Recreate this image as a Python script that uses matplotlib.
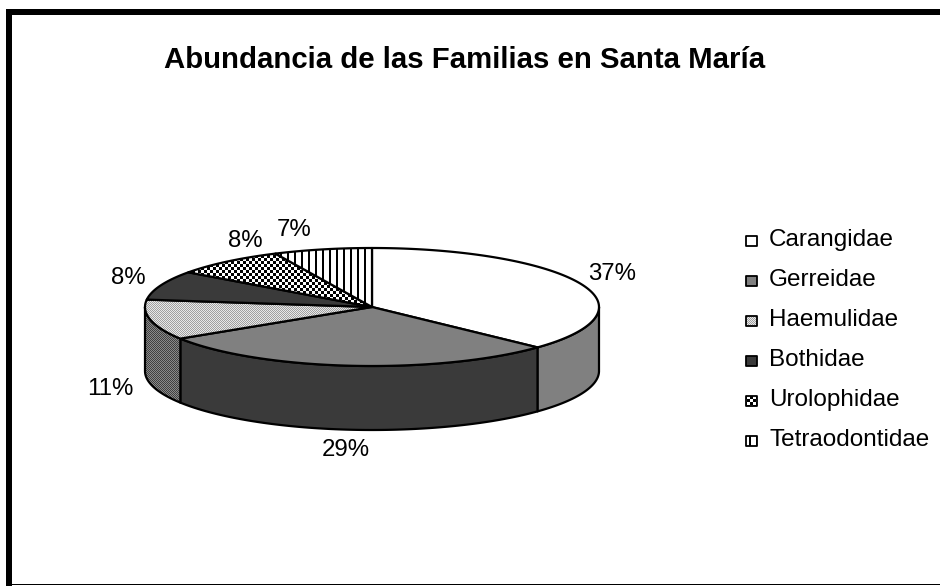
import numpy as np
import matplotlib.pyplot as plt
from matplotlib.patches import Polygon, Rectangle

plt.rcParams['font.family'] = ['Liberation Sans', 'DejaVu Sans']

# data
familias = ["Carangidae", "Gerreidae", "Haemulidae", "Bothidae", "Urolophidae", "Tetraodontidae"]
porcentajes = [37, 29, 11, 8, 8, 7]

# fills: (kind, color1, color2) for top face and side face
relleno_sup = [("solid", "#ffffff", None), ("solid", "#808080", None), ("dots", "#a0a0a0", "#e8e8e8"),
               ("solid", "#3a3a3a", None), ("checker", "#000000", "#ffffff"), ("stripes", "#000000", "#ffffff")]
relleno_lat = [("solid", "#808080", None), ("solid", "#3a3a3a", None), ("dots", "#404040", "#8a8a8a"),
               ("solid", "#202020", None), ("checker", "#000000", "#808080"), ("stripes", "#000000", "#808080")]

# label nudges (px) so the small slices don't collide
ajuste = [(0, -3), (-2, -4), (-6, 48), (0, -2), (40, -6), (-21, 0)]

W, H = 940, 586
fig = plt.figure(figsize=(W / 100, H / 100), dpi=100)
ax = fig.add_axes([0, 0, 1, 1])
ax.set_xlim(0, W)
ax.set_ylim(H, 0)
ax.axis('off')

cx, cy, a, b, depth = 372, 307, 227, 59, 64
yy, xx = np.mgrid[0:H, 0:W]


def to_rgb(c):
    return np.array(plt.matplotlib.colors.to_rgb(c))


def pattern(kind, c1, c2):
    if kind == "dots":
        m = (xx + yy) % 2 == 0
    elif kind == "checker":
        m = ((xx // 3) + (yy // 3)) % 2 == 0
    else:
        m = (xx % 7) < 2
    return np.where(m[..., None], to_rgb(c1), to_rgb(c2))


zorder = [1]


def draw(verts, style, lw=1.6):
    kind, c1, c2 = style
    z = zorder[0]
    zorder[0] += 2
    if kind == "solid":
        ax.add_patch(Polygon(verts, closed=True, fc=c1, ec='black', lw=lw, joinstyle='round', zorder=z))
        return
    clip = Polygon(verts, closed=True, fc='none', ec='none', transform=ax.transData)
    img = ax.imshow(pattern(kind, c1, c2), extent=(0, W, H, 0), interpolation='nearest',
                    aspect='auto', zorder=z)
    img.set_clip_path(clip)
    ax.add_patch(Polygon(verts, closed=True, fc='none', ec='black', lw=lw, joinstyle='round', zorder=z + 1))


def arc(t0, t1):
    t = np.radians(np.linspace(t0, t1, 120))
    return np.column_stack([cx + a * np.cos(t), cy - b * np.sin(t)])


# slice angles, starting at 12 o'clock going clockwise
total = sum(porcentajes)
bordes = 90 - 360 * np.concatenate([[0], np.cumsum(porcentajes)]) / total

# side walls (front half only)
for i in range(len(familias)):
    t0, t1 = bordes[i], bordes[i + 1]
    lo, hi = max(t1, -180), min(t0, 0)
    if lo < hi:
        top = arc(hi, lo)
        bot = top[::-1] + [0, depth]
        draw(np.vstack([top, bot]), relleno_lat[i])

# top faces
for i in range(len(familias)):
    verts = np.vstack([[cx, cy], arc(bordes[i], bordes[i + 1])])
    draw(verts, relleno_sup[i])

# percentage labels
for i, p in enumerate(porcentajes):
    mid = np.radians((bordes[i] + bordes[i + 1]) / 2)
    lx = cx + (a + 35) * np.cos(mid) + ajuste[i][0]
    ly = cy - (b + 22) * np.sin(mid) + depth * max(0, -np.sin(mid)) + ajuste[i][1]
    ax.text(lx, ly + 8.5, f"{p}%", ha='center', va='baseline', fontsize=17.3, zorder=50)

# legend
for i, fam in enumerate(familias):
    base = 246 + 40 * i
    draw(np.array([[746, base - 10.5], [756.5, base - 10.5], [756.5, base], [746, base]]),
         relleno_sup[i], lw=1.3)
    ax.text(769, base, fam, ha='left', va='baseline', fontsize=17.5, zorder=50)

ax.text(465, 68, "Abundancia de las Familias en Santa María", ha='center', va='baseline',
        fontsize=21.2, fontweight='bold', zorder=50)

# chart frame
ax.add_patch(Rectangle((6, 9), 6, H - 9, fc='black', ec='none', zorder=60))
ax.add_patch(Rectangle((6, 9), W - 6, 6, fc='black', ec='none', zorder=60))
ax.add_patch(Rectangle((6, 583.5), W - 6, 1.5, fc='black', ec='none', zorder=60))

ax.set_xlim(0, W)
ax.set_ylim(H, 0)
fig.savefig("out.png", dpi=100)
